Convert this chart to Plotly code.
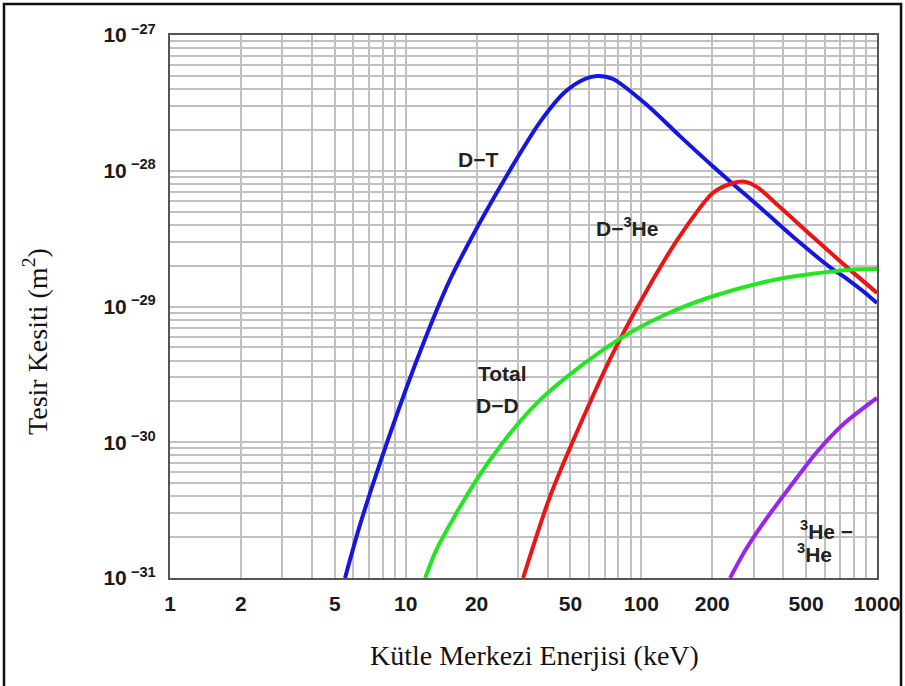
import math
import plotly.graph_objects as go

# ---- data ----
dt_E = [5.53, 6.40, 8.41, 11.5, 15.4, 20.7, 27.7, 37.2, 47.4, 57.6, 64.8, 75.8, 105.6, 145.8, 201, 328, 457,
        631, 745, 871, 1000]
dt_sigma = [1e-31, 2.46e-31, 1.04e-30, 4.62e-30, 1.57e-29, 4.19e-29, 1.01e-28, 2.29e-28, 3.80e-28, 4.74e-28,
            4.99e-28, 4.74e-28, 3.05e-28, 1.80e-28, 1.08e-28, 5.14e-29, 3.09e-29, 1.95e-29, 1.60e-29, 1.30e-29,
            1.06e-29]

dhe_E = [31.5, 40.9, 54.9, 75.8, 105.6, 145.8, 201, 245, 275, 309, 387, 535, 745, 1000]
dhe_sigma = [1e-31, 3.95e-31, 1.34e-30, 4.54e-30, 1.32e-29, 3.31e-29, 6.86e-29, 8.13e-29, 8.3e-29, 7.6e-29,
             5.41e-29, 3.25e-29, 1.95e-29, 1.26e-29]

dd_E = [12.1, 13.6, 19.7, 25.9, 36.1, 48.3, 66.7, 92.1, 128, 201, 387, 745, 1000]
dd_sigma = [1e-31, 1.66e-31, 5.09e-31, 1.0e-30, 1.95e-30, 3.03e-30, 4.62e-30, 6.6e-30, 8.81e-30,
            1.19e-29, 1.60e-29, 1.86e-29, 1.89e-29]

hehe_E = [238, 275, 334, 427, 556, 731, 1000]
hehe_sigma = [1e-31, 1.58e-31, 2.63e-31, 4.68e-31, 8.48e-31, 1.39e-30, 2.12e-30]

x_grid = [m * 10 ** d for d in range(0, 3) for m in range(1, 10)] + [1000]
x_labels = {1: "1", 2: "2", 5: "5", 10: "10", 20: "20", 50: "50", 100: "100", 200: "200", 500: "500", 1000: "1000"}
y_grid = [m * 10.0 ** d for d in range(-31, -27) for m in range(1, 10)] + [1e-27]
y_labels = {-31: "10<sup> −31</sup>", -30: "10<sup> −30</sup>", -29: "10<sup> −29</sup>",
            -28: "10<sup> −28</sup>", -27: "10<sup> −27</sup>"}

series = [
    ("D−T", dt_E, dt_sigma, "#1616dc"),
    ("D−³He", dhe_E, dhe_sigma, "#ea1515"),
    ("Total D−D", dd_E, dd_sigma, "#22e622"),
    ("³He−³He", hehe_E, hehe_sigma, "#9a24e8"),
]

fig = go.Figure()
for name, xs, ys, col in series:
    fig.add_trace(go.Scatter(x=xs, y=ys, mode="lines", name=name,
                             line=dict(color=col, width=4, shape="spline", smoothing=0.8)))

x_text = [x_labels.get(int(round(v)), "") for v in x_grid]
y_text = []
for v in y_grid:
    e = math.log10(v)
    y_text.append(y_labels[int(round(e))] if abs(e - round(e)) < 1e-9 else "")

fig.update_xaxes(type="log", range=[0, 3], tickmode="array", tickvals=x_grid, ticktext=x_text,
                 showgrid=True, gridcolor="#c0c0c0", gridwidth=1.5, showline=True, linecolor="#555555",
                 linewidth=2, mirror=True, ticks="", zeroline=False, ticklabelstandoff=6, automargin=False,
                 tickfont=dict(family="Liberation Sans", size=21, color="#1a1a1a", weight="bold"))
fig.update_yaxes(type="log", range=[-31, -27], tickmode="array", tickvals=y_grid, ticktext=y_text,
                 showgrid=True, gridcolor="#c0c0c0", gridwidth=1.5, showline=True, linecolor="#555555",
                 linewidth=2, mirror=True, ticks="", zeroline=False, ticklabelstandoff=8, automargin=False,
                 tickfont=dict(family="Liberation Sans", size=21, color="#1a1a1a", weight="bold"))

lab_font = dict(family="Liberation Sans", size=21, color="#222222", weight="bold")
labels = [
    ("D−T", 0.4356, 0.770),
    ("D−<sup>3</sup>He", 0.6464, 0.6464),
    ("Total", 0.4696, 0.3775),
    ("D−D", 0.4639, 0.3186),
    ("<sup>3</sup>He −", 0.928, 0.0884),
    ("<sup>3</sup>He", 0.9115, 0.046),
]
for t, ax, ay in labels:
    fig.add_annotation(text=t, x=ax, y=ay, xref="paper", yref="paper", showarrow=False,
                       font=lab_font, xanchor="center", yanchor="middle")

title_font = dict(family="Liberation Serif", size=28, color="#111111")
fig.add_annotation(text="Kütle Merkezi Enerjisi (keV)", x=0.515, y=-0.142, xref="paper", yref="paper",
                   showarrow=False, font=title_font, xanchor="center", yanchor="middle")
fig.add_annotation(text="Tesir Kesiti (m<sup>2</sup>)", x=-0.19, y=0.436, xref="paper", yref="paper",
                   showarrow=False, font=title_font, xanchor="center", yanchor="middle", textangle=-90)

# outer frame
fig.add_shape(type="rect", xref="paper", yref="paper", x0=-0.2348, x1=1.034, y0=-0.206, y1=1.057,
              line=dict(color="#111111", width=2.5), fillcolor="rgba(0,0,0,0)", layer="below")

fig.update_layout(width=905, height=686, margin=dict(l=170, r=28, t=35, b=108),
                  plot_bgcolor="white", paper_bgcolor="white", showlegend=False)

fig.write_html("out.html", config={"displayModeBar": False},
               post_script="document.body.style.margin='0';document.body.style.overflow='hidden';")
